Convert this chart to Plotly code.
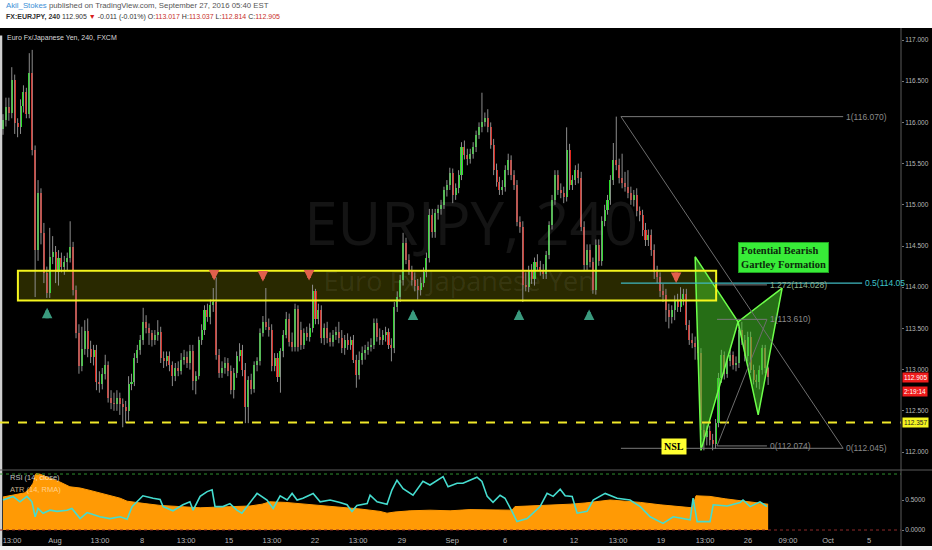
import plotly.graph_objects as go

# ---------------- data (4h bars, EURJPY) ----------------
opens = [
115.92,116.03,116.19,116.12,116.51,115.99,115.95,116.20,116.37,116.10,
116.60,115.66,114.45,115.14,114.66,114.17,113.93,114.37,114.43,114.18,
114.35,114.25,114.30,114.35,114.49,113.97,113.44,113.04,113.25,113.47,
113.25,113.15,113.24,112.85,112.82,112.95,113.05,112.66,112.60,112.58,
112.66,112.58,112.55,112.50,112.82,112.85,113.14,113.24,113.36,113.58,
113.50,113.44,113.36,113.42,113.46,113.14,113.10,113.16,113.05,112.92,
113.02,112.98,113.12,113.15,113.08,113.22,112.86,112.92,113.36,113.48,
113.72,113.64,113.78,113.82,113.18,112.96,113.02,113.08,112.98,112.75,
112.96,113.16,113.24,113.00,112.55,112.87,112.76,113.05,113.10,113.45,
113.58,113.52,113.48,113.04,113.14,112.91,113.22,113.42,113.62,113.34,
113.28,113.74,113.48,113.30,113.45,113.40,113.50,113.95,113.62,113.72,
113.38,113.50,113.38,113.34,113.42,113.46,113.38,113.26,113.36,113.30,
113.36,113.12,112.94,113.12,113.20,113.24,113.28,113.30,113.56,113.40,
113.36,113.42,113.46,113.30,113.26,113.76,113.88,114.09,114.54,114.33,
114.20,114.09,114.02,113.97,114.05,114.18,114.36,114.88,114.67,114.90,
114.95,115.00,115.18,115.24,115.39,115.12,115.20,115.36,115.70,115.60,
115.55,115.62,115.70,115.85,115.94,116.00,116.05,115.94,115.73,115.42,
115.28,115.18,115.22,115.42,115.54,115.36,115.24,114.79,114.73,114.03,
114.00,114.20,114.10,114.30,114.25,114.20,114.16,114.39,114.75,115.06,
115.36,115.18,115.14,115.10,115.67,115.24,115.30,115.42,115.32,114.73,
114.27,114.45,114.30,113.97,114.51,114.32,114.80,114.94,115.06,115.30,
115.54,115.48,115.32,115.26,115.22,115.14,115.06,115.12,114.92,114.88,
114.70,114.57,114.63,114.45,114.18,114.12,113.96,113.90,113.72,113.64,
113.72,113.84,113.76,113.86,113.92,113.54,113.36,113.32,113.28,113.20,
112.27,112.18,112.25,112.15,112.10,112.35,112.90,113.18,112.95,113.10,
113.18,113.06,113.08,113.48,113.36,113.16,113.40,113.00,112.87,112.85,
113.00,113.26,113.017]
highs = [
116.10,116.30,116.30,116.67,116.58,116.05,116.28,116.45,116.42,116.84,
116.88,115.72,115.30,115.20,114.78,114.25,114.72,114.62,114.50,114.45,
114.42,114.38,114.42,114.80,114.55,114.02,113.55,113.52,113.60,113.62,
113.35,113.30,113.30,112.98,113.02,113.18,113.10,112.75,112.72,112.75,
112.72,112.65,112.62,112.92,112.95,113.20,113.30,113.42,113.75,113.66,
113.56,113.48,113.48,113.60,113.52,113.22,113.22,113.22,113.10,113.08,
113.10,113.20,113.24,113.22,113.30,113.30,112.98,113.40,113.55,113.78,
113.80,113.85,113.99,114.12,113.25,113.10,113.15,113.14,113.05,113.02,
113.22,113.32,113.30,113.08,112.92,112.95,113.10,113.15,113.50,113.65,
113.99,113.62,113.55,113.20,113.20,113.26,113.48,113.70,113.68,113.45,
113.80,113.78,113.58,113.50,113.52,113.56,114.03,113.98,113.80,113.78,
113.56,113.58,113.45,113.48,113.52,113.58,113.48,113.42,113.44,113.40,
113.42,113.18,113.22,113.28,113.30,113.34,113.38,113.62,113.62,113.50,
113.48,113.52,113.50,113.38,113.82,113.95,114.15,114.66,114.60,114.40,
114.26,114.18,114.10,114.12,114.24,114.42,114.95,114.95,114.95,115.00,
115.06,115.22,115.30,115.45,115.44,115.26,115.42,115.76,115.78,115.68,
115.68,115.76,115.90,116.00,116.36,116.12,116.16,116.00,115.80,115.50,
115.34,115.30,115.48,115.62,115.60,115.42,115.30,114.86,114.80,114.18,
114.26,114.28,114.36,114.40,114.32,114.28,114.44,114.80,115.12,115.42,
115.42,115.26,115.22,115.94,115.74,115.36,115.48,115.50,115.40,114.80,
114.52,114.52,114.36,114.58,114.58,114.86,115.00,115.12,115.36,115.75,
116.07,115.56,115.62,115.40,115.42,115.22,115.18,115.20,114.98,114.94,
114.78,114.70,114.70,114.52,114.26,114.18,114.04,113.98,113.80,113.78,
113.90,113.92,114.00,113.98,113.98,113.60,113.44,113.40,113.36,113.26,
112.35,112.32,112.32,112.22,112.40,112.96,113.24,113.22,113.16,113.24,
113.22,113.16,113.52,113.58,113.42,113.46,113.46,113.06,112.94,113.05,
113.30,113.30,113.037]
lows = [
115.85,115.95,116.02,116.05,115.86,115.82,115.86,116.12,116.05,116.05,
115.60,113.88,114.32,114.52,114.05,113.87,113.87,114.28,114.05,114.02,
114.18,114.15,114.20,114.30,113.90,113.38,112.95,112.98,113.18,113.15,
113.08,113.05,112.75,112.72,112.76,112.88,112.60,112.52,112.50,112.50,
112.45,112.30,112.35,112.38,112.75,112.80,113.08,113.18,113.30,113.44,
113.30,113.28,113.30,113.35,113.08,113.02,113.04,112.98,112.80,112.86,
112.92,112.94,113.06,113.02,113.00,112.75,112.70,112.88,113.30,113.42,
113.58,113.55,113.70,113.12,112.90,112.90,112.95,112.92,112.70,112.65,
112.90,113.10,112.92,112.35,112.35,112.70,112.72,112.98,113.05,113.40,
113.48,113.40,112.98,112.98,112.85,112.72,113.15,113.38,113.28,113.22,
113.22,113.22,113.24,113.25,113.35,113.34,113.45,113.55,113.55,113.32,
113.30,113.32,113.28,113.28,113.36,113.32,113.20,113.18,113.24,113.24,
113.08,112.78,112.88,113.06,113.12,113.18,113.22,113.25,113.34,113.30,
113.30,113.34,113.25,113.10,113.20,113.70,113.82,114.02,114.28,114.15,
114.02,113.95,113.85,113.90,114.00,114.12,114.30,114.60,114.60,114.82,
114.88,114.95,115.10,115.18,115.02,115.06,115.14,115.30,115.55,115.48,
115.50,115.56,115.64,115.80,115.88,115.95,115.88,115.68,115.36,115.22,
115.12,115.12,115.16,115.36,115.30,115.18,114.74,114.66,113.82,113.95,
113.94,114.04,114.02,114.20,114.14,114.10,114.10,114.34,114.70,115.00,
115.12,115.08,115.02,115.04,115.18,115.18,115.24,115.26,114.68,114.20,
114.20,114.24,113.92,113.91,114.26,114.26,114.74,114.88,115.00,115.24,
115.42,115.26,115.20,115.16,115.08,115.00,114.98,114.86,114.80,114.62,
114.50,114.50,114.38,114.10,114.05,113.88,113.82,113.58,113.50,113.56,
113.60,113.70,113.70,113.78,113.48,113.30,113.26,113.12,113.12,112.15,
112.02,112.08,112.08,112.02,112.04,112.30,112.84,112.88,112.90,113.04,
113.00,112.98,113.02,113.30,113.10,113.10,112.96,112.82,112.78,112.76,
112.94,112.96,112.814]
closes = [
116.03,116.19,116.12,116.51,115.99,115.95,116.20,116.37,116.10,116.60,
115.66,114.45,115.14,114.66,114.17,113.93,114.37,114.43,114.18,114.35,
114.25,114.30,114.35,114.49,113.97,113.44,113.04,113.25,113.47,113.25,
113.15,113.24,112.85,112.82,112.95,113.05,112.66,112.60,112.58,112.66,
112.58,112.55,112.50,112.82,112.85,113.14,113.24,113.36,113.58,113.50,
113.44,113.36,113.42,113.46,113.14,113.10,113.16,113.05,112.92,113.02,
112.98,113.12,113.15,113.08,113.22,112.86,112.92,113.36,113.48,113.72,
113.64,113.78,113.82,113.18,112.96,113.02,113.08,112.98,112.75,112.96,
113.16,113.24,113.00,112.55,112.87,112.76,113.05,113.10,113.45,113.58,
113.52,113.48,113.04,113.14,112.91,113.22,113.42,113.62,113.34,113.28,
113.74,113.27,113.30,113.45,113.40,113.50,113.95,113.62,113.72,113.38,
113.50,113.38,113.34,113.42,113.46,113.38,113.26,113.36,113.30,113.36,
113.12,112.94,113.12,113.20,113.24,113.28,113.30,113.56,113.40,113.36,
113.42,113.46,113.30,113.26,113.76,113.88,114.09,114.54,114.33,114.20,
114.09,114.02,113.97,114.05,114.18,114.36,114.88,114.67,114.90,114.95,
115.00,115.18,115.24,115.39,115.12,115.20,115.36,115.70,115.60,115.55,
115.62,115.70,115.85,115.94,116.00,116.05,115.94,115.73,115.42,115.28,
115.18,115.22,115.42,115.54,115.36,115.24,114.79,114.73,114.03,114.00,
114.20,114.10,114.30,114.25,114.20,114.16,114.39,114.75,115.06,115.36,
115.18,115.14,115.10,115.67,115.24,115.30,115.42,115.32,114.73,114.27,
114.45,114.30,113.97,114.51,114.32,114.80,114.94,115.06,115.30,115.54,
115.48,115.32,115.26,115.22,115.14,115.06,115.12,114.92,114.88,114.70,
114.57,114.63,114.45,114.18,114.12,113.96,113.90,113.72,113.64,113.72,
113.84,113.76,113.86,113.92,113.54,113.36,113.32,113.28,113.20,112.27,
112.18,112.25,112.15,112.10,112.35,112.90,113.18,112.95,113.10,113.18,
113.06,113.08,113.48,113.36,113.16,113.40,113.00,112.87,112.85,113.00,
113.26,113.02,112.905]

# time axis (bar-index positions)
tick_pos = [3.1, 17.8, 33.2, 47.6, 62.7, 77.4, 92.1, 106.8, 121.6, 136.6,
            153.8, 171.9, 195.5, 210.6, 225.3, 240.4, 255.1, 268.8, 282.5, 296.6]
tick_text = ["13:00", "Aug", "13:00", "8", "13:00", "15", "13:00", "22", "13:00", "29",
             "Sep", "6", "12", "13:00", "19", "13:00", "26", "09:00", "Oct", "5"]
price_ticks = [112.0, 112.5, 113.0, 113.5, 114.0, 114.5, 115.0, 115.5, 116.0, 116.5, 117.0]

# RSI (14, close), sampled
rsi_x = [0, 3.4, 5.8, 8.2, 9.9, 11.0, 12.0, 13.7, 16.1, 18.5,
         21.9, 23.6, 26.4, 28.8, 33.2, 36.6, 40.1, 42.5, 44.2, 45.9,
         47.9, 51.4, 53.8, 54.8, 58.2, 61.6, 64.0, 65.1, 67.5, 69.9,
         71.6, 72.6, 75.3, 77.7, 80.1, 81.8, 83.6, 87.0, 90.4, 92.5,
         94.9, 97.3, 99.0, 100.7, 102.7, 106.2, 108.6, 112.0, 115.4, 117.8,
         119.5, 121.2, 124.7, 125.7, 128.1, 131.5, 133.2, 134.9, 137.0, 140.4,
         143.8, 146.2, 150.7, 152.4, 155.5, 157.5, 162.3, 164.0, 165.8, 167.8,
         170.2, 171.9, 174.3, 176.0, 179.5, 181.5, 183.9, 186.3, 188.4, 190.8,
         192.5, 194.9, 196.6, 200.0, 202.1, 206.2, 210.3, 214.7, 218.2, 221.6,
         226.0, 229.5, 232.9, 235.3, 236.3, 237.7, 242.1, 243.2, 248.0, 252.4,
         253.4, 255.8, 259.2, 261.6]
rsi_v = [0.50, 0.56, 0.47, 0.56, 0.47, 0.22, 0.36, 0.28, 0.33, 0.31,
         0.33, 0.36, 0.19, 0.29, 0.22, 0.19, 0.22, 0.18, 0.39, 0.47,
         0.57, 0.53, 0.51, 0.39, 0.32, 0.42, 0.47, 0.33, 0.56, 0.64,
         0.67, 0.39, 0.39, 0.44, 0.33, 0.28, 0.39, 0.61, 0.50, 0.36,
         0.57, 0.50, 0.61, 0.50, 0.53, 0.61, 0.47, 0.50, 0.46, 0.42,
         0.31, 0.41, 0.44, 0.58, 0.47, 0.43, 0.67, 0.83, 0.69, 0.58,
         0.81, 0.75, 0.89, 0.72, 0.78, 0.78, 0.88, 0.81, 0.56, 0.46,
         0.58, 0.53, 0.31, 0.14, 0.19, 0.28, 0.39, 0.61, 0.56, 0.68,
         0.57, 0.56, 0.28, 0.31, 0.50, 0.61, 0.53, 0.50, 0.39, 0.22,
         0.11, 0.22, 0.19, 0.17, 0.53, 0.14, 0.14, 0.42, 0.40, 0.46,
         0.50, 0.39, 0.47, 0.39]
# ATR (14, RMA), sampled
atr_x = [0, 7.5, 9.2, 10.3, 11.3, 12.7, 16.1, 19.5, 22.9, 26.4,
         29.8, 33.2, 36.6, 40.1, 42.5, 45.2, 48.6, 53.8, 60.6, 67.5,
         72.6, 77.7, 84.6, 88.7, 91.4, 96.6, 101.7, 108.6, 115.4, 122.3,
         129.1, 131.5, 134.2, 139.4, 146.2, 153.1, 159.9, 170.2, 174.3, 175.3,
         180.5, 187.3, 194.2, 199.3, 204.5, 207.9, 213.0, 218.2, 225.0, 231.8,
         236.0, 237.3, 242.1, 247.3, 254.1, 259.2, 262.0]
atr_v = [0.55, 0.62, 0.70, 0.78, 0.94, 0.93, 0.86, 0.80, 0.72, 0.70,
         0.66, 0.62, 0.58, 0.53, 0.48, 0.46, 0.44, 0.41, 0.39, 0.37,
         0.38, 0.39, 0.40, 0.43, 0.47, 0.46, 0.44, 0.41, 0.38, 0.35,
         0.31, 0.28, 0.30, 0.32, 0.33, 0.32, 0.34, 0.34, 0.33, 0.39,
         0.40, 0.41, 0.43, 0.45, 0.48, 0.50, 0.48, 0.46, 0.42, 0.39,
         0.37, 0.57, 0.56, 0.52, 0.48, 0.45, 0.43]

# drawings
zone_x = [5.1, 244.2]
zone_price = [113.84, 114.20]
support_level = 112.357
fib1_x = [211.6, 287.7]
fib1_levels = [116.070, 114.05, 112.045]
fib1_labels = ["1(116.070)", "0.5(114.05", "0(112.045)"]
fib1_label_x = [287.7, 294.2, 287.7]
fib1_mid_end = 294.2
fib2_x = [244.5, 261.6]
fib2_levels = [114.028, 113.610, 112.074]
fib2_labels = ["1.272(114.028)", "1(113.610)", "0(112.074)"]
pattern_x = [237.0, 239.0, 251.7, 258.6, 266.8]
pattern_y = [114.37, 112.02, 113.58, 112.45, 113.99]
up_arrow_x = [15.1, 140.4, 176.7, 200.7]
up_arrow_y = [113.75, 113.73, 113.73, 113.73]
down_arrow_x = [72.3, 89.0, 104.8, 230.5]
down_arrow_y = [114.08, 114.07, 114.08, 114.05]

# ---------------- figure ----------------
n = len(closes)
idx = list(range(n))
GREEN = "#25e425"
RED = "#e8231a"
AXFONT = dict(family="Liberation Sans", size=6.5, color="#b8b8b8")

fig = go.Figure()

# watermark (under everything)
fig.add_trace(go.Scatter(
    x=[160.3, 156.2], y=[114.69, 114.03], mode="text",
    text=["EURJPY, 240", "Euro Fx/Japanese Yen"],
    textfont=dict(family="Open Sans", size=[60, 27], color="rgba(255,255,255,0.08)"),
    hoverinfo="skip", showlegend=False))

# wicks
wx, wy = [], []
for i in idx:
    wx += [i, i, None]
    wy += [lows[i], highs[i], None]
fig.add_trace(go.Scatter(x=wx, y=wy, mode="lines",
                         line=dict(color="#8c8c8c", width=1),
                         hoverinfo="skip", showlegend=False))
# bodies
base = [min(o, c) for o, c in zip(opens, closes)]
height = [abs(c - o) for o, c in zip(opens, closes)]
cols = [GREEN if c >= o else RED for o, c in zip(opens, closes)]
fig.add_trace(go.Bar(x=idx, y=height, base=base, width=0.7,
                     marker=dict(color=cols, line=dict(width=0)),
                     showlegend=False, hoverinfo="skip"))

# Gartley pattern triangles
tri1 = [0, 1, 2, 0]
tri2 = [2, 3, 4, 2]
for tri in (tri1, tri2):
    fig.add_trace(go.Scatter(
        x=[pattern_x[k] for k in tri], y=[pattern_y[k] for k in tri],
        mode="lines", fill="toself", fillcolor="rgba(70,200,40,0.55)",
        line=dict(color="#6dff4a", width=1.5), hoverinfo="skip", showlegend=False))

# ATR area + RSI line
fig.add_trace(go.Scatter(x=atr_x, y=atr_v, yaxis="y2", mode="lines",
                         fill="tozeroy", fillcolor="#ff9a05",
                         line=dict(color="#ff9a05", width=1),
                         hoverinfo="skip", showlegend=False))
fig.add_trace(go.Scatter(x=rsi_x, y=rsi_v, yaxis="y2", mode="lines",
                         line=dict(color="#45dccf", width=1.6),
                         hoverinfo="skip", showlegend=False))

shapes = []
# header white strip, bottom strip, left page edge
shapes.append(dict(type="rect", xref="paper", yref="paper", x0=-0.01, x1=1.05,
                   y0=1.0, y1=1.07, fillcolor="white", line=dict(width=0), layer="below"))
shapes.append(dict(type="rect", xref="paper", yref="paper", x0=-0.01, x1=1.05,
                   y0=-0.05, y1=-0.0237, fillcolor="#f2f2f2", line=dict(width=0), layer="below"))
shapes.append(dict(type="rect", xref="paper", yref="paper", x0=-0.01, x1=0.0025,
                   y0=-0.0237, y1=0.985, fillcolor="#cfcfcf", line=dict(width=0)))
# zone box: fill below, border above
shapes.append(dict(type="rect", xref="x", yref="y", x0=zone_x[0], x1=zone_x[1],
                   y0=zone_price[0], y1=zone_price[1],
                   fillcolor="rgba(255,255,0,0.16)", line=dict(width=0), layer="below"))
shapes.append(dict(type="rect", xref="x", yref="y", x0=zone_x[0], x1=zone_x[1],
                   y0=zone_price[0], y1=zone_price[1],
                   fillcolor="rgba(0,0,0,0)", line=dict(color="#f5f51e", width=2)))
# support dashed line
shapes.append(dict(type="line", xref="paper", yref="y", x0=0, x1=1,
                   y0=support_level, y1=support_level,
                   line=dict(color="#f0e82a", width=2, dash="dash")))
# fib 1
shapes.append(dict(type="line", xref="x", yref="y", x0=fib1_x[0], x1=fib1_x[1],
                   y0=fib1_levels[0], y1=fib1_levels[0], line=dict(color="#7a7a7a", width=1)))
shapes.append(dict(type="line", xref="x", yref="y", x0=fib1_x[0], x1=fib1_mid_end,
                   y0=fib1_levels[1], y1=fib1_levels[1], line=dict(color="#3fb8c0", width=1.2)))
shapes.append(dict(type="line", xref="x", yref="y", x0=fib1_x[0], x1=fib1_x[1],
                   y0=fib1_levels[2], y1=fib1_levels[2], line=dict(color="#7a7a7a", width=1)))
shapes.append(dict(type="line", xref="x", yref="y", x0=fib1_x[0], x1=fib1_x[1],
                   y0=fib1_levels[0], y1=fib1_levels[2], line=dict(color="#6e6e6e", width=1)))
# fib 2
for lv in fib2_levels:
    shapes.append(dict(type="line", xref="x", yref="y", x0=fib2_x[0], x1=fib2_x[1],
                       y0=lv, y1=lv, line=dict(color="#7a7a7a", width=1)))
shapes.append(dict(type="line", xref="x", yref="y", x0=fib2_x[0], x1=fib2_x[1],
                   y0=fib2_levels[2], y1=fib2_levels[1], line=dict(color="#6e6e6e", width=1)))
# RSI pane guide lines
shapes.append(dict(type="line", xref="paper", yref="y2", x0=0, x1=1, y0=0.933, y1=0.933,
                   line=dict(color="#2f8f2f", width=1, dash="dot")))
shapes.append(dict(type="line", xref="paper", yref="y2", x0=0, x1=1, y0=0.0, y1=0.0,
                   line=dict(color="#8f2a2a", width=1, dash="dot")))
# separators
shapes.append(dict(type="line", xref="paper", yref="paper", x0=0, x1=1.04,
                   y0=0.12648, y1=0.12648, line=dict(color="#5a5a5a", width=1)))
shapes.append(dict(type="line", xref="paper", yref="paper", x0=1.0, x1=1.0,
                   y0=-0.0237, y1=1.0, line=dict(color="#5a5a5a", width=1)))

ann = []
# header texts
ann.append(dict(xref="paper", yref="paper", x=0.004, y=1.0435, xanchor="left", yanchor="middle",
                showarrow=False, font=dict(family="Liberation Sans", size=7.8, color="#555555"),
                text='<span style="color:#3d8fd6">Akil_Stokes</span> published on TradingView.com, September 27, 2016 05:40 EST'))
ann.append(dict(xref="paper", yref="paper", x=0.004, y=1.0217, xanchor="left", yanchor="middle",
                showarrow=False, font=dict(family="Liberation Sans", size=7.0, color="#333333"),
                text='<b>FX:EURJPY, 240</b> 112.905 <span style="color:#d8201a">▼</span> -0.011 (-0.01%) '
                     'O:<span style="color:#c8302a">113.017</span> H:<span style="color:#c8302a">113.037</span> '
                     'L:<span style="color:#c8302a">112.814</span> C:<span style="color:#c8302a">112.905</span>'))
ann.append(dict(xref="paper", yref="paper", x=0.005, y=0.980, xanchor="left", yanchor="middle",
                showarrow=False, font=dict(family="Liberation Sans", size=7, color="#d8d8d8"),
                text="Euro Fx/Japanese Yen, 240, FXCM"))
# RSI pane labels
ann.append(dict(xref="paper", yref="paper", x=0.009, y=0.1107, xanchor="left", yanchor="middle",
                showarrow=False, font=dict(family="Liberation Sans", size=7.5, color="rgba(255,255,255,0.75)"),
                text="RSI (14, close)"))
ann.append(dict(xref="paper", yref="paper", x=0.009, y=0.0889, xanchor="left", yanchor="middle",
                showarrow=False, font=dict(family="Liberation Sans", size=7.5, color="rgba(255,225,190,0.75)"),
                text="ATR (14, RMA)"))
# fib labels
for lx, lv, lt, lc in zip(fib1_label_x, fib1_levels, fib1_labels, ["#8a8a8a", "#3fc4cc", "#8a8a8a"]):
    ann.append(dict(x=lx, y=lv, xref="x", yref="y", xanchor="left", yanchor="middle",
                    showarrow=False, xshift=1, text=lt,
                    font=dict(family="Liberation Sans", size=8.5, color=lc)))
for lv, lt, lc in zip(fib2_levels, fib2_labels, ["#8fb08f", "#8a8a8a", "#8a8a8a"]):
    ann.append(dict(x=fib2_x[1], y=lv, xref="x", yref="y", xanchor="left", yanchor="middle",
                    showarrow=False, xshift=1, text=lt,
                    font=dict(family="Liberation Sans", size=8.5, color=lc)))
# arrows (head + stem)
for ax_, ay_ in zip(up_arrow_x, up_arrow_y):
    ann.append(dict(x=ax_, y=ay_, xref="x", yref="y", ax=0, ay=12, text="",
                    showarrow=True, arrowhead=2, arrowsize=0.6, arrowwidth=3.5, arrowcolor="#3a9a7e"))
for ax_, ay_ in zip(down_arrow_x, down_arrow_y):
    ann.append(dict(x=ax_, y=ay_, xref="x", yref="y", ax=0, ay=-12, text="",
                    showarrow=True, arrowhead=2, arrowsize=0.6, arrowwidth=3.5, arrowcolor="#e2604c"))
# pattern text box
ann.append(dict(x=267.1, y=114.36, xref="x", yref="y", showarrow=False,
                text="<b>Potential Bearish<br>Gartley Formation</b>",
                font=dict(family="Liberation Serif", size=10.5, color="#0b2a0b"),
                bgcolor="#38ec38", bordercolor="#20a020", borderwidth=1, borderpad=2, align="left"))
ann.append(dict(x=229.8, y=112.07, xref="x", yref="y", showarrow=False,
                text="<b>NSL</b>", font=dict(family="Liberation Serif", size=10, color="#000000"),
                bgcolor="#ffff30", borderpad=2))
# price badges on axis
ann.append(dict(xref="paper", x=1.0, y=112.905, yref="y", xanchor="left", yanchor="middle",
                showarrow=False, xshift=1, text="112.905", bgcolor="#ee1c1c",
                font=dict(family="Liberation Sans", size=6.5, color="white"), borderpad=1))
ann.append(dict(xref="paper", x=1.0, y=112.74, yref="y", xanchor="left", yanchor="middle",
                showarrow=False, xshift=1, text="2:19:14", bgcolor="#ee1c1c",
                font=dict(family="Liberation Sans", size=6.5, color="white"), borderpad=1))
ann.append(dict(xref="paper", x=1.0, y=support_level, yref="y", xanchor="left", yanchor="middle",
                showarrow=False, xshift=1, text="112.357", bgcolor="#f5f520",
                font=dict(family="Liberation Sans", size=6.5, color="#222222"), borderpad=1))

fig.update_layout(
    width=932, height=550,
    margin=dict(l=0, r=31, t=28, b=16),
    paper_bgcolor="#000000", plot_bgcolor="#000000",
    showlegend=False, bargap=0, hovermode=False,
    shapes=shapes, annotations=ann,
    xaxis=dict(range=[-1.03, 307.5], anchor="y2", showgrid=False, zeroline=False,
               tickvals=tick_pos, ticktext=tick_text, ticks="",
               tickfont=dict(family="Liberation Sans", size=7.5, color="#b8b8b8"),
               showline=False),
    yaxis=dict(domain=[0.12648, 1.0], range=[111.7816, 117.1456], side="right",
               showgrid=False, zeroline=False, tickvals=price_ticks,
               ticktext=["%.3f" % v for v in price_ticks], ticks="outside", ticklen=2,
               tickcolor="#777777", tickfont=AXFONT),
    yaxis2=dict(domain=[0.0, 0.12648], range=[-0.0667, 1.0], side="right",
                showgrid=False, zeroline=False, tickvals=[0.0, 0.5],
                ticktext=["0.0000", "0.5000"], ticks="outside", ticklen=2, tickcolor="#777777",
                tickfont=AXFONT),
)

fig.write_html("out.html", config={"displayModeBar": False, "staticPlot": True},
               post_script="document.body.style.margin='0';document.body.style.overflow='hidden';")
